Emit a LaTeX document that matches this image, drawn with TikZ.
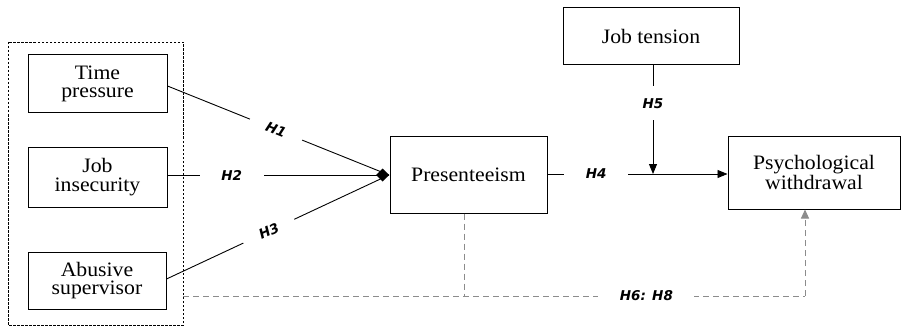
\documentclass[tikz,border=0pt]{standalone}
\usepackage{fontspec}
\setmainfont{Liberation Serif}[FakeStretch=1.06]
\newfontfamily\lblfont{DejaVu Sans}
\usetikzlibrary{arrows.meta}
\begin{document}
\begin{tikzpicture}[x=1pt,y=-1pt,
  box/.style={draw,line width=1pt,minimum width=#1,align=center,font=\fontsize{20.5}{18.5}\selectfont,inner sep=0pt},
  box/.default=139pt,
  lbl/.style={font=\lblfont\bfseries\itshape\fontsize{13.5}{14}\selectfont,fill=white,inner sep=0pt},
  conn/.style={line width=0.9pt},
  gconn/.style={line width=1pt,draw=black!45,dash pattern=on 6pt off 4pt}]
\useasboundingbox (0,0) rectangle (901,326);
\draw[dash pattern=on 2.5pt off 1.5pt,line width=0.9pt] (8,42) rectangle (183,325);
\node[box,minimum height=58pt] (tp) at (97.5,84) {Time\\pressure};
\node[box,minimum height=60pt] (ji) at (97.5,177) {Job\\insecurity};
\node[box=138pt,minimum height=57pt] (ab) at (97,280.5) {Abusive\\supervisor};
\node[box=157pt,minimum height=77pt] (pr) at (468.5,174.5) {Presenteeism};
\node[box=176pt,minimum height=57pt] (jt) at (651,36.5) {Job tension};
\node[box=172pt,minimum height=73pt] (pw) at (814,172.5) {Psychological\\withdrawal};
\coordinate (tip) at (389,175);
\coordinate (frame) at (183,296);
\coordinate (gb) at (464,296);
\coordinate (gc) at (805,296);
\coordinate (mod) at (653,174);
\draw[conn] (tp.east |- 0,86) -- node[lbl,sloped,minimum width=56pt,minimum height=14pt,pos=0.49]{H1} (tip);
\draw[conn] (ji.east |- 0,175) -- node[lbl,minimum width=64pt,minimum height=14pt,pos=0.29]{H2} (tip);
\draw[conn] (ab.east |- 0,279) -- node[lbl,sloped,minimum width=56pt,minimum height=14pt,pos=0.46]{H3} (tip);
\fill (tip) -- ++(-6.5,-6.5) -- ++(-6.5,6.5) -- ++(6.5,6.5) -- cycle;
\draw[conn,-{Triangle[length=10pt,width=8pt]}] (pr.east |- 0,174) -- node[lbl,minimum width=64pt,minimum height=14pt,pos=0.27]{H4} (pw.west |- 0,174);
\draw[conn,-{Triangle[length=10pt,width=8pt]}] (jt.south -| mod) -- node[lbl,minimum height=34pt,minimum width=24pt,pos=0.35]{H5} (mod);
\draw[gconn] (pr.south -| gb) -- (gb);
\draw[gconn] (frame) -- node[lbl,minimum width=96pt,minimum height=12pt,pos=0.745]{H6: H8} (gc);
\draw[gconn,-{Triangle[length=9pt,width=8pt,fill=black!45]}] (gc) -- (pw.south -| gc);
\end{tikzpicture}
\end{document}
